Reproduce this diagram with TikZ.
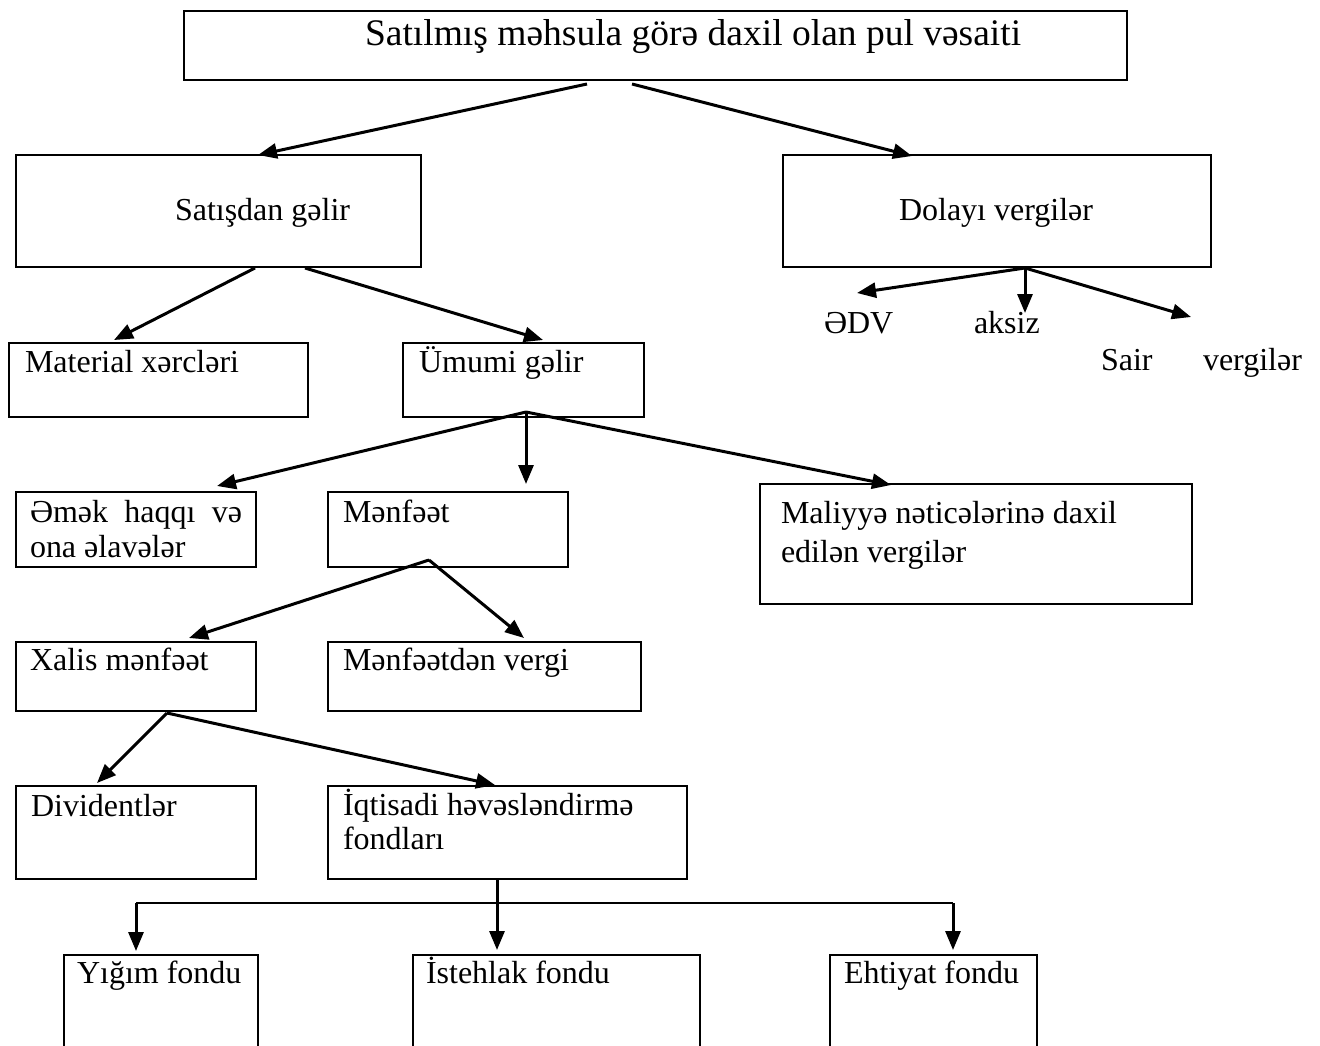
\documentclass[tikz,border=0pt]{standalone}
\usepackage{fontspec}
\setmainfont{Liberation Serif}
\usetikzlibrary{arrows.meta,calc}

\tikzset{
  box/.style={draw, line width=2.8pt, inner sep=0pt, outer sep=0pt,
    anchor=north west, minimum width=#1},
  txt/.style={anchor=base west, inner sep=0pt, outer sep=0pt,
    font=\fontsize{32pt}{35pt}\selectfont},
  arr/.style={line width=3pt, -{Triangle[length=19pt,width=15pt]}},
  lnk/.style={line width=2.4pt}
}

\begin{document}
\begin{tikzpicture}[x=1pt,y=-1pt]
\useasboundingbox (0,0) rectangle (1320,1045);
\clip (0,0) rectangle (1320,1045);

% boxes
\node[box=943pt, minimum height=69pt]  (title) at (184,11)  {};
\node[box=405pt, minimum height=112pt] (sat)   at (16,155)  {};
\node[box=428pt, minimum height=112pt] (dol)   at (783,155) {};
\node[box=299pt, minimum height=74pt]  (mat)   at (9,343)   {};
\node[box=241pt, minimum height=74pt]  (umu)   at (403,343) {};
\node[box=240pt, minimum height=75pt]  (emek)  at (16,492)  {};
\node[box=240pt, minimum height=75pt]  (menf)  at (328,492) {};
\node[box=432pt, minimum height=120pt] (mal)   at (760,484) {};
\node[box=240pt, minimum height=69pt]  (xal)   at (16,642)  {};
\node[box=313pt, minimum height=69pt]  (mvg)   at (328,642) {};
\node[box=240pt, minimum height=93pt]  (div)   at (16,786)  {};
\node[box=359pt, minimum height=93pt]  (iqt)   at (328,786) {};
\node[box=194pt, minimum height=130pt] (yig)   at (64,955)  {};
\node[box=287pt, minimum height=130pt] (ist)   at (413,955) {};
\node[box=207pt, minimum height=130pt] (eht)   at (830,955) {};

% texts
\node[txt, font=\fontsize{37.5pt}{40pt}\selectfont] (t0) at (365,45)
  {Satılmış məhsula görə daxil olan pul vəsaiti};
\node[txt] (t1)  at (175,220) {Satışdan gəlir};
\node[txt] (t2)  at (899,220) {Dolayı vergilər};
\node[txt] (edv) at (824,333) {ƏDV};
\node[txt] (aks) at (974,333) {aksiz};
\node[txt] (sai) at (1101,370) {Sair};
\node[txt] (ver) at (1203,370) {vergilər};
\node[txt] (t3)  at (25,372)  {Material xərcləri};
\node[txt] (t4)  at (419,372) {Ümumi gəlir};
\node[txt] (t5)  at (30,522)  {\makebox[212pt][s]{Əmək\hfill haqqı\hfill və}};
\node[txt] (t5b) at (30,557)  {ona əlavələr};
\node[txt] (t6)  at (343,522) {Mənfəət};
\node[txt] (t7)  at (781,523) {Maliyyə nəticələrinə daxil};
\node[txt] (t7b) at (781,562) {edilən vergilər};
\node[txt] (t8)  at (30,670)  {Xalis mənfəət};
\node[txt] (t9)  at (343,670) {Mənfəətdən vergi};
\node[txt] (t10) at (31,816)  {Dividentlər};
\node[txt] (t11) at (343,815) {İqtisadi həvəsləndirmə};
\node[txt] (t11b) at (343,849) {fondları};
\node[txt] (t12) at (77,983)  {Yığım fondu};
\node[txt] (t13) at (426,983) {İstehlak fondu};
\node[txt] (t14) at (844,983) {Ehtiyat fondu};

% free ends of the tax arrows
\coordinate (edvtip) at (857,293);
\coordinate (akstip) at (1025,313);
\coordinate (saitip) at (1191,317);

% connectors
\draw[arr] ($(title.south west)+(403,4)$) -- ($(sat.north west)+(242,0)$);
\draw[arr] ($(title.south west)+(448,4)$) -- ($(dol.north west)+(129,1)$);

\draw[arr] ($(dol.south west)+(242,1)$) -- (edvtip);
\draw[arr] ($(dol.south west)+(242,1)$) -- (akstip);
\draw[arr] ($(dol.south west)+(242,1)$) -- (saitip);

\draw[arr] ($(sat.south west)+(239,1)$) -- ($(mat.north west)+(105,-3)$);
\draw[arr] ($(sat.south west)+(289,1)$) -- ($(umu.north west)+(140,-3)$);

\draw[arr] ($(umu.south west)+(123,-5)$) -- ($(emek.north west)+(201,-6)$);
\draw[arr] ($(umu.south west)+(123,-5)$) -- ($(menf.north west)+(198,-8)$);
\draw[arr] ($(umu.south west)+(123,-5)$) -- ($(mal.north west)+(131,1)$);

\draw[arr] ($(menf.south west)+(101,-7)$) -- ($(xal.north west)+(173,-4)$);
\draw[arr] ($(menf.south west)+(101,-7)$) -- ($(mvg.north west)+(196,-4)$);

\draw[arr] ($(xal.south west)+(151,2)$) -- ($(div.north west)+(81,-3)$);
\draw[arr] ($(xal.south west)+(151,2)$) -- ($(iqt.north west)+(167,-1)$);

\draw[arr] ($(iqt.south west)+(169,-1)$) -- ($(ist.north west)+(84,-5)$);
\draw[lnk] (136,903) coordinate (hl) -- (953,903) coordinate (hr);
\draw[arr] (hl) -- ($(yig.north west)+(72,-4)$);
\draw[arr] (hr) -- ($(eht.north west)+(123,-5)$);
\end{tikzpicture}
\end{document}
